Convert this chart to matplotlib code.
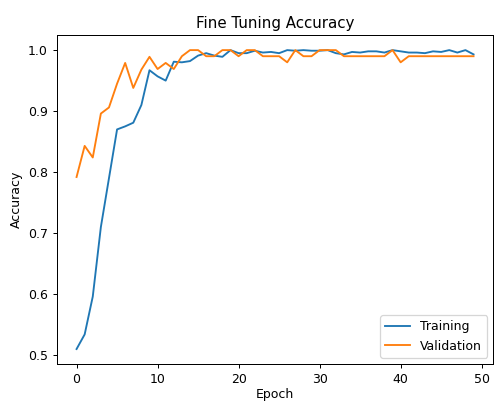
import matplotlib
matplotlib.use('Agg')
import matplotlib.pyplot as plt

epochs = list(range(50))

train_acc = [0.510, 0.534, 0.596, 0.710, 0.790, 0.870, 0.875, 0.881, 0.910, 0.967,
             0.957, 0.950, 0.981, 0.980, 0.982, 0.991, 0.995, 0.991, 0.989, 1.000,
             0.995, 0.995, 0.999, 0.996, 0.997, 0.995, 1.000, 0.999, 1.000, 0.999,
             0.999, 1.000, 0.995, 0.993, 0.997, 0.996, 0.998, 0.998, 0.996, 1.000,
             0.998, 0.996, 0.996, 0.995, 0.998, 0.997, 1.000, 0.996, 1.000, 0.993]

val_acc = [0.792, 0.843, 0.824, 0.896, 0.906, 0.945, 0.979, 0.938, 0.968, 0.989,
           0.969, 0.979, 0.969, 0.990, 1.000, 1.000, 0.990, 0.990, 1.000, 1.000,
           0.990, 1.000, 1.000, 0.990, 0.990, 0.990, 0.980, 1.000, 0.990, 0.990,
           1.000, 1.000, 1.000, 0.990, 0.990, 0.990, 0.990, 0.990, 0.990, 1.000,
           0.980, 0.990, 0.990, 0.990, 0.990, 0.990, 0.990, 0.990, 0.990, 0.990]

# reference looks like a default-style plot rendered a bit smaller, so use dpi 90
dpi = 90
fig = plt.figure(figsize=(494 / dpi, 401 / dpi), dpi=dpi)
ax = fig.add_axes([0.1148, 0.0923, 0.884, 0.820])

ax.plot(epochs, train_acc, label='Training')
ax.plot(epochs, val_acc, label='Validation')

ax.set_title('Fine Tuning Accuracy')
ax.set_xlabel('Epoch', labelpad=1.5)
ax.set_ylabel('Accuracy')
ax.legend(loc='lower right')

fig.savefig('out.png', dpi=dpi)
